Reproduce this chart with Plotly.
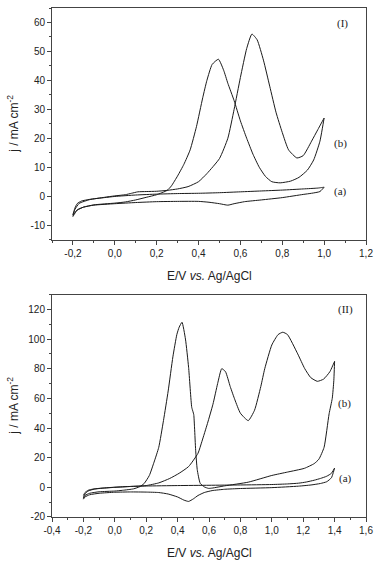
import plotly.graph_objects as go

# ---------------- Panel (I) data ----------------
I_a_fwd_E = [-0.20, -0.19, -0.18, -0.16, -0.12, -0.05, 0.00, 0.10, 0.20, 0.30, 0.40, 0.50, 0.60, 0.70, 0.80, 0.90, 0.97, 1.00]
I_a_fwd_j = [-6.5, -4.0, -2.6, -1.7, -1.1, -0.5, -0.1, 0.4, 0.7, 0.9, 1.0, 1.2, 1.5, 1.8, 2.1, 2.5, 2.8, 3.1]
I_a_rev_E = [1.00, 0.98, 0.94, 0.90, 0.80, 0.70, 0.62, 0.57, 0.54, 0.50, 0.45, 0.40, 0.30, 0.20, 0.10, 0.00, -0.10, -0.15, -0.18, -0.20]
I_a_rev_j = [3.1, 1.6, 1.0, 0.6, -0.5, -1.3, -1.9, -2.6, -3.1, -2.6, -2.1, -1.8, -1.8, -1.9, -2.2, -2.6, -3.1, -3.8, -4.8, -6.5]

I_b_fwd_E = [-0.20, -0.19, -0.17, -0.12, -0.05, 0.00, 0.05, 0.08, 0.11, 0.15, 0.20, 0.25, 0.30, 0.35, 0.40, 0.44, 0.50, 0.54, 0.57, 0.60, 0.63, 0.655, 0.68, 0.71, 0.74, 0.77, 0.80, 0.83, 0.87, 0.90, 0.94, 0.97, 1.00]
I_b_fwd_j = [-7.0, -4.5, -2.5, -1.2, -0.4, 0.1, 0.5, 1.0, 1.5, 1.6, 1.7, 2.0, 2.5, 3.3, 5.0, 7.8, 13, 20, 30, 41, 51, 56, 54, 47, 38, 29, 22, 16, 13.2, 14, 19, 23, 27]
I_b_rev_E = [1.00, 0.98, 0.95, 0.92, 0.88, 0.84, 0.79, 0.75, 0.72, 0.69, 0.66, 0.63, 0.60, 0.57, 0.54, 0.52, 0.495, 0.465, 0.44, 0.42, 0.39, 0.36, 0.33, 0.30, 0.27, 0.25, 0.20, 0.15, 0.10, 0.05, 0.00, -0.10, -0.15, -0.18, -0.20]
I_b_rev_j = [27, 19, 12.5, 9, 6.5, 5.2, 4.6, 5.0, 6.8, 10, 14.5, 20, 26, 33, 39, 43.5, 47.3, 45.5, 40, 34, 24, 16, 11, 7, 3.5, 2.0, 0.5, -0.4, -1.3, -2.0, -2.4, -3.0, -3.8, -4.8, -7.0]

# ---------------- Panel (II) data ----------------
II_a_fwd_E = [-0.20, -0.19, -0.17, -0.14, -0.10, 0.00, 0.10, 0.20, 0.40, 0.60, 0.80, 1.00, 1.10, 1.17, 1.22, 1.27, 1.31, 1.35, 1.38, 1.40]
II_a_fwd_j = [-5.5, -3.5, -2.0, -1.2, -0.7, 0.1, 0.6, 0.9, 1.2, 1.4, 1.6, 1.9, 2.3, 2.8, 3.6, 4.8, 6.0, 7.5, 9.5, 13.0]
II_a_rev_E = [1.40, 1.38, 1.35, 1.31, 1.25, 1.17, 1.00, 0.80, 0.70, 0.62, 0.57, 0.53, 0.50, 0.47, 0.44, 0.40, 0.34, 0.28, 0.20, 0.10, 0.00, -0.10, -0.16, -0.19, -0.20]
II_a_rev_j = [13.0, 6.5, 3.8, 2.6, 1.6, 0.8, -0.2, -0.8, -1.3, -2.2, -3.5, -5.5, -7.8, -9.5, -8.6, -6.5, -4.5, -3.5, -3.2, -3.1, -3.3, -4.0, -5.0, -6.5, -8.0]

II_b_fwd_E = [-0.20, -0.19, -0.17, -0.13, -0.08, 0.00, 0.10, 0.20, 0.28, 0.35, 0.41, 0.47, 0.53, 0.555, 0.59, 0.625, 0.655, 0.681, 0.705, 0.735, 0.765, 0.80, 0.85, 0.89, 0.93, 0.955, 1.00, 1.04, 1.07, 1.10, 1.165, 1.21, 1.248, 1.29, 1.33, 1.37, 1.40]
II_b_fwd_j = [-7.0, -4.5, -2.5, -1.2, -0.6, 0.0, 0.6, 1.2, 3.0, 6.0, 9.5, 14, 23, 31, 43, 56, 70, 80, 78, 68, 59, 50, 45, 52, 68, 80, 96, 103, 104.6, 103, 90, 80, 74, 71.5, 73, 78, 85]
II_b_rev_E = [1.40, 1.395, 1.385, 1.365, 1.333, 1.30, 1.27, 1.207, 1.10, 1.00, 0.85, 0.70, 0.62, 0.597, 0.57, 0.544, 0.525, 0.515, 0.508, 0.503, 0.498, 0.49, 0.47, 0.45, 0.428, 0.41, 0.395, 0.37, 0.34, 0.31, 0.28, 0.25, 0.22, 0.187, 0.16, 0.12, 0.05, 0.00, -0.10, -0.16, -0.19, -0.20]
II_b_rev_j = [85, 72, 60, 49.6, 27, 19, 16, 12.8, 10.3, 8, 3.5, 1.0, -0.5, -0.7, 0.3, 2.7, 12, 25, 40, 49, 51, 54, 81, 100, 111.3, 108, 103, 88, 65, 45, 27, 17, 8, 2.6, 0.5, -1.0, -2.0, -2.5, -3.0, -4.0, -5.5, -7.4]

# ---------------- Tick labels ----------------
I_x_ticks = [-0.2, 0.0, 0.2, 0.4, 0.6, 0.8, 1.0, 1.2]
I_x_labels = ["-0,2", "0,0", "0,2", "0,4", "0,6", "0,8", "1,0", "1,2"]
I_y_ticks = [-10, 0, 10, 20, 30, 40, 50, 60]
I_y_labels = ["-10", "0", "10", "20", "30", "40", "50", "60"]
II_x_ticks = [-0.4, -0.2, 0.0, 0.2, 0.4, 0.6, 0.8, 1.0, 1.2, 1.4, 1.6]
II_x_labels = ["-0,4", "-0,2", "0,0", "0,2", "0,4", "0,6", "0,8", "1,0", "1,2", "1,4", "1,6"]
II_y_ticks = [-20, 0, 20, 40, 60, 80, 100, 120]
II_y_labels = ["-20", "0", "20", "40", "60", "80", "100", "120"]

x_title = "E/V <i>vs.</i> Ag/AgCl"
y_title = "j / mA cm<sup>-2</sup>"

LINE = dict(color="#1a1a1a", width=1, shape="spline", smoothing=0.5)

fig = go.Figure()
fig.add_trace(go.Scatter(x=I_a_fwd_E + I_a_rev_E, y=I_a_fwd_j + I_a_rev_j, mode="lines", line=LINE, xaxis="x", yaxis="y"))
fig.add_trace(go.Scatter(x=I_b_fwd_E + I_b_rev_E, y=I_b_fwd_j + I_b_rev_j, mode="lines", line=LINE, xaxis="x", yaxis="y"))
fig.add_trace(go.Scatter(x=II_a_fwd_E + II_a_rev_E, y=II_a_fwd_j + II_a_rev_j, mode="lines", line=LINE, xaxis="x2", yaxis="y2"))
fig.add_trace(go.Scatter(x=II_b_fwd_E + II_b_rev_E, y=II_b_fwd_j + II_b_rev_j, mode="lines", line=LINE, xaxis="x2", yaxis="y2"))

FONT = dict(family="Liberation Sans, Arial, sans-serif", size=10, color="#222")
SERIF = dict(family="Liberation Serif, Times New Roman, serif", size=11, color="#222")


def axis(tv, tt, rng, minor_step, domain=None, anchor=None):
    lo = rng[0]
    n = int(round((rng[1] - rng[0]) / minor_step))
    minor_vals = [lo + k * minor_step for k in range(n + 1)]
    d = dict(range=rng, tickmode="array", tickvals=tv, ticktext=tt,
             ticks="outside", ticklen=4, tickwidth=1, tickcolor="#444",
             showline=True, linecolor="#444", linewidth=1, mirror=True,
             showgrid=False, zeroline=False, tickfont=FONT,
             minor=dict(tickmode="array", tickvals=minor_vals, ticks="outside",
                        ticklen=2, tickcolor="#444", showgrid=False))
    if domain is not None:
        d["domain"] = domain
    if anchor is not None:
        d["anchor"] = anchor
    return d


fig.update_layout(
    width=380, height=566,
    margin=dict(l=52, r=11, t=7, b=49),
    paper_bgcolor="white", plot_bgcolor="white",
    showlegend=False,
    xaxis=axis(I_x_ticks, I_x_labels, [-0.3, 1.2], 0.1, anchor="y"),
    yaxis=axis(I_y_ticks, I_y_labels, [-15, 65], 5, domain=[0.545, 1.0], anchor="x"),
    xaxis2=axis(II_x_ticks, II_x_labels, [-0.4, 1.6], 0.1, anchor="y2"),
    yaxis2=axis(II_y_ticks, II_y_labels, [-20, 130], 10, domain=[0.0, 0.437], anchor="x2"),
)

ann = []
for xa, ya in (("x", "y"), ("x2", "y2")):
    ann.append(dict(text=x_title, xref=xa + " domain", yref=ya + " domain", x=0.5, y=0,
                    yshift=-36, showarrow=False, xanchor="center", yanchor="middle",
                    font=dict(family="Liberation Sans, Arial, sans-serif", size=12, color="#222")))
    ann.append(dict(text=y_title, xref=xa + " domain", yref=ya + " domain", x=0, y=0.5,
                    xshift=-39, showarrow=False, textangle=-90, xanchor="center", yanchor="middle",
                    font=dict(family="Liberation Sans, Arial, sans-serif", size=12, color="#222")))

ann += [
    dict(text="(I)", x=1.09, y=59.5, xref="x", yref="y", showarrow=False, font=SERIF),
    dict(text="(b)", x=1.08, y=18.2, xref="x", yref="y", showarrow=False, font=SERIF),
    dict(text="(a)", x=1.08, y=1.5, xref="x", yref="y", showarrow=False, font=SERIF),
    dict(text="(II)", x=1.467, y=120, xref="x2", yref="y2", showarrow=False, font=SERIF),
    dict(text="(b)", x=1.465, y=56.6, xref="x2", yref="y2", showarrow=False, font=SERIF),
    dict(text="(a)", x=1.467, y=6, xref="x2", yref="y2", showarrow=False, font=SERIF),
]
fig.update_layout(annotations=ann)

fig.write_html("out.html",
               config={"displayModeBar": False, "staticPlot": True},
               post_script="document.body.style.margin='0';document.body.style.overflow='hidden';")
